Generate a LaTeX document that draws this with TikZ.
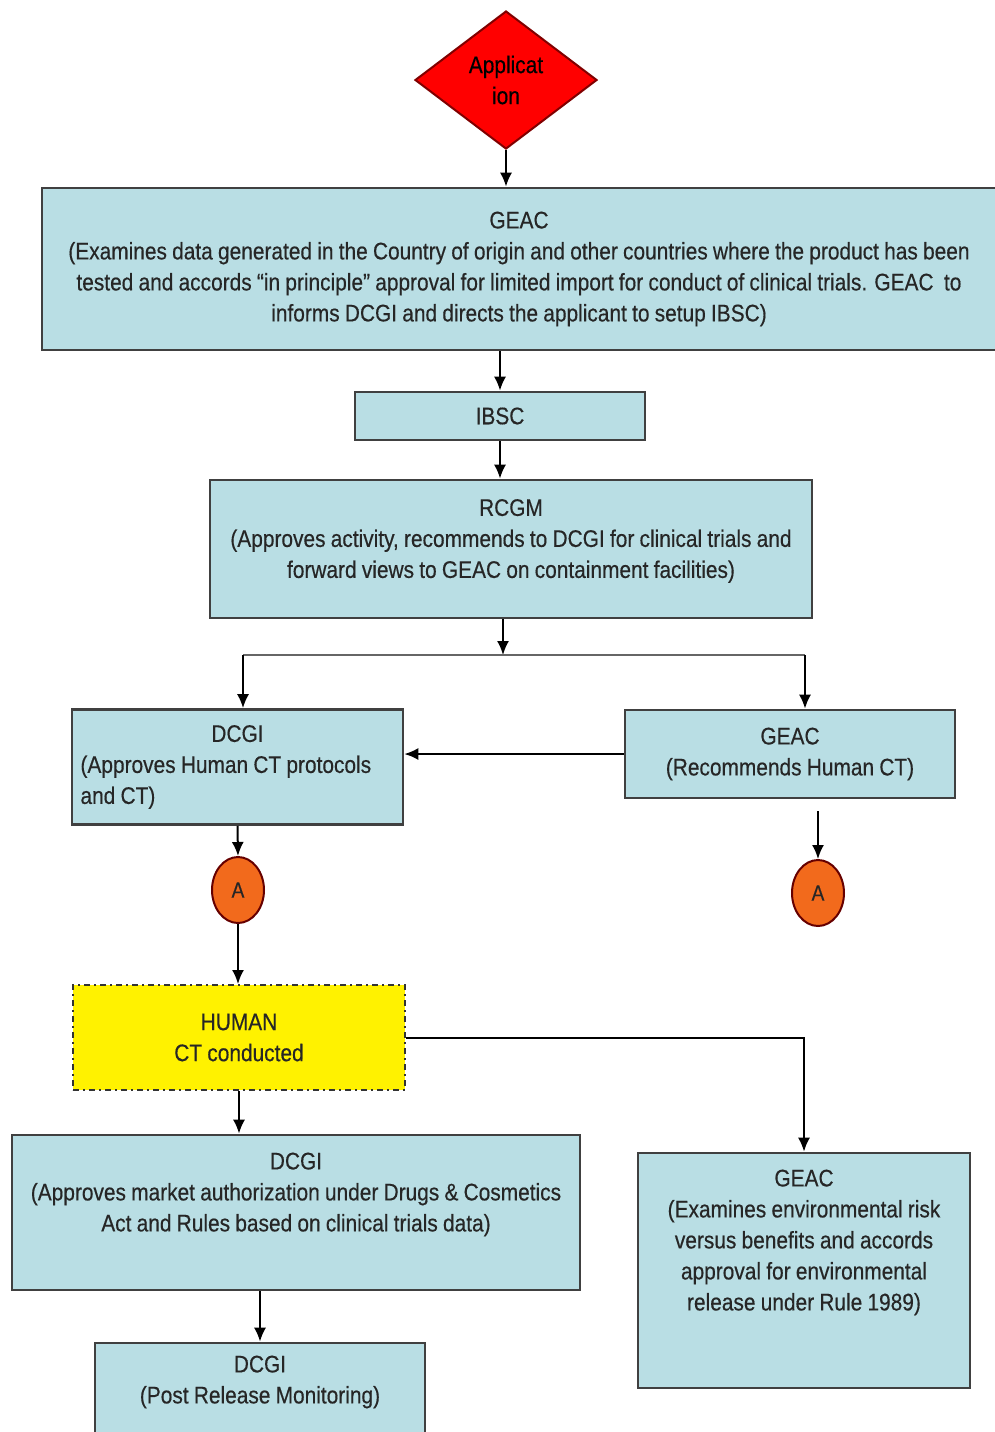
\documentclass[tikz,border=0pt]{standalone}
\usepackage{fontspec}
\setmainfont{Liberation Sans}[FakeStretch=0.87, WordSpace=0.9, FakeBold=0.4]
\usetikzlibrary{shapes.geometric, arrows.meta}
\definecolor{boxblue}{RGB}{185,222,228}
\definecolor{apporange}{RGB}{242,106,28}
\newcommand{\liftgap}[1]{\endgraf\vspace*{#1}}

\begin{document}
\begin{tikzpicture}[x=0.5pt, y=-0.5pt, >={Latex[length=7pt,width=6pt]}, line width=1pt,
	every node/.style={font=\fontsize{12}{15.5}\selectfont, text=black!85},
	box/.style={draw=black!75, line width=1.3pt, fill=boxblue, align=flush center, inner sep=0pt},
	lift/.style={execute at end node={\liftgap{#1}}},
	conn/.style={fill=apporange, draw=red!40!black, line width=1pt, ellipse, inner sep=0pt,
		minimum width=26pt, minimum height=33pt, font=\fontsize{11}{13}\selectfont}]
	\useasboundingbox (0,0) rectangle (995,1432);
	% Các hộp
	\node[diamond, fill=red, draw=red!50!black, line width=1pt, inner sep=0pt, align=center, text=black,
		minimum width=91pt, minimum height=69pt] (app) at (506,80) {Applicat\\ion};
	\node[box, minimum width=477pt, minimum height=81pt, text width=470pt] (geac1) at (519,269)
		{GEAC\\(Examines data generated in the Country of origin and other countries where the product has been\\
		tested and accords “in principle” approval for limited import for conduct of clinical trials. GEAC \ to\\
		informs DCGI and directs the applicant to setup IBSC)};
	\node[box, minimum width=145pt, minimum height=24pt] (ibsc) at (500,416) {IBSC};
	\node[box, minimum width=301pt, minimum height=69pt, text width=295pt, lift=8pt] (rcgm) at (511,549)
		{RCGM\\(Approves activity, recommends to DCGI for clinical trials and\\
		forward views to GEAC on containment facilities)};
	\node[box, minimum width=165.5pt, minimum height=57.5pt, text width=157pt, align=flush left] (dcgi1) at (237.5,767)
		{\makebox[157pt]{DCGI}\\(Approves Human CT protocols\\and CT)};
	\node[box, minimum width=165pt, minimum height=44pt] (geac2) at (790,754)
		{GEAC\\(Recommends Human CT)};
	\node[conn] (ca1) at (238,890) {A};
	\node[conn] (ca2) at (818,893) {A};
	\node[box, fill=yellow, draw=black!80, line width=1pt, dash dot, minimum width=166pt, minimum height=52.5pt]
		(human) at (239,1037.5) {HUMAN\\CT conducted};
	\node[box, minimum width=284pt, minimum height=77.5pt, text width=280pt, lift=18pt] (dcgi2) at (296,1212.5)
		{DCGI\\(Approves market authorization under Drugs \& Cosmetics\\
		Act and Rules based on clinical trials data)};
	\node[box, minimum width=166pt, minimum height=117.5pt, text width=150pt, lift=28pt] (geac3) at (804,1270.5)
		{GEAC\\(Examines environmental risk\\versus benefits and accords\\approval for environmental\\
		release under Rule 1989)};
	\node[box, minimum width=165pt, minimum height=55pt, text width=150pt, lift=16pt] (dcgi3) at (260,1398)
		{DCGI\\(Post Release Monitoring)};
	% Các mũi tên
	\coordinate (sp) at (503,655);
	\coordinate (sl) at (243,655);
	\coordinate (sr) at (805,655);
	\draw[->] (app.south) -- (app.south |- geac1.north);
	\draw[->] (ibsc.north |- geac1.south) -- (ibsc.north);
	\draw[->] (ibsc.south) -- (ibsc.south |- rcgm.north);
	\draw[->] (sp |- rcgm.south) -- (sp);
	\draw[black!60] (sl) -- (sr);
	\draw[->] (sl) -- (sl |- dcgi1.north);
	\draw[->] (sr) -- (sr |- geac2.north);
	\draw[->] (geac2.west) -- (geac2.west -| dcgi1.east);
	\draw[->] (dcgi1.south) -- (ca1.north);
	\draw[->, shorten <=6pt] (ca2.north |- geac2.south) -- (ca2.north);
	\draw[->] (ca1.south) -- (ca1.south |- human.north);
	\draw[->] (human.south) -- (human.south |- dcgi2.north);
	\draw[->] (human.east) -| (geac3.north);
	\draw[->] (dcgi3.north |- dcgi2.south) -- (dcgi3.north);
\end{tikzpicture}
\end{document}
